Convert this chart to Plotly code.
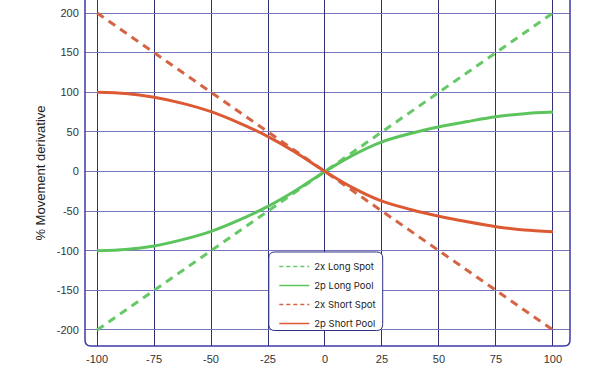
import plotly.graph_objects as go

x_vals = [-100, -75, -50, -25, 0, 25, 50, 75, 100]
long_spot = [-200, -150, -100, -50, 0, 50, 100, 150, 200]
short_spot = [200, 150, 100, 50, 0, -50, -100, -150, -200]

pool_x = [-100, -87.5, -75, -62.5, -50, -37.5, -25, -12.5, 0,
          12.5, 25, 37.5, 50, 62.5, 75, 87.5, 100]
long_pool = [-100, -98.4, -94, -86, -75.5, -61, -44, -23.4, 0,
             21, 37.5, 48, 56.5, 63, 69, 73, 75]
short_pool = [100, 98.4, 93.6, 86, 75.5, 61, 44, 23.4, 0,
              -21, -37.5, -48, -56.5, -63.5, -69.6, -73.8, -76]

x_ticks = [-100, -75, -50, -25, 0, 25, 50, 75, 100]
y_ticks = [-200, -150, -100, -50, 0, 50, 100, 150, 200]
legend_names = ["2x Long Spot", "2p Long Pool", "2x Short Spot", "2p Short Pool"]

GREEN = "#5cc45c"
GREEN_D = "#66c866"
RED = "#dc5a33"
RED_D = "#d46443"

fig = go.Figure()
fig.add_trace(go.Scatter(x=x_vals, y=long_spot, mode="lines", showlegend=False,
                         line=dict(color=GREEN_D, width=3, dash="8px,6px")))
fig.add_trace(go.Scatter(x=pool_x, y=long_pool, mode="lines", showlegend=False,
                         line=dict(color=GREEN, width=3, shape="spline", smoothing=0.8)))
fig.add_trace(go.Scatter(x=x_vals, y=short_spot, mode="lines", showlegend=False,
                         line=dict(color=RED_D, width=3, dash="8px,6px")))
fig.add_trace(go.Scatter(x=pool_x, y=short_pool, mode="lines", showlegend=False,
                         line=dict(color=RED, width=3, shape="spline", smoothing=0.8)))

# thin legend entries
leg_styles = [(GREEN_D, "4px,3px"), (GREEN, "solid"), (RED_D, "4px,3px"), (RED, "solid")]
for name, (c, d) in zip(legend_names, leg_styles):
    fig.add_trace(go.Scatter(x=[None], y=[None], mode="lines", name=name,
                             line=dict(color=c, width=1.5, dash=d)))

L, R, T, B = 84.5, 570, 0, 346
W, H = 600, 368


def px_to_paper(px, py):
    return (px - L) / (R - L), (B - py) / (B - T)


def p(x, y):
    a, b = px_to_paper(x, y)
    return f"{a:.5f},{b:.5f}"


def rounded_rect(x0, y0, x1, y1, r):
    return (f"M{p(x0 + r, y0)} L{p(x1 - r, y0)} Q{p(x1, y0)} {p(x1, y0 + r)} "
            f"L{p(x1, y1 - r)} Q{p(x1, y1)} {p(x1 - r, y1)} "
            f"L{p(x0 + r, y1)} Q{p(x0, y1)} {p(x0, y1 - r)} "
            f"L{p(x0, y0 + r)} Q{p(x0, y0)} {p(x0 + r, y0)} Z")


def frame_path():
    r = 6
    return (f"M{p(L, -5)} L{p(L, B - r)} Q{p(L, B)} {p(L + r, B)} "
            f"L{p(R - r, B)} Q{p(R, B)} {p(R, B - r)} L{p(R, -5)}")


shapes = [
    dict(type="path", xref="paper", yref="paper", path=frame_path(),
         line=dict(color="#3b3ba8", width=1.5), layer="above"),
    dict(type="path", xref="paper", yref="paper",
         path=rounded_rect(268.5, 252, 382.5, 330.5, 6),
         line=dict(color="#2e2e80", width=1), fillcolor="white", layer="above"),
]

lx, ly = px_to_paper(274, 252)

fig.update_layout(
    width=W, height=H,
    margin=dict(l=L, r=W - R, t=T, b=H - B),
    paper_bgcolor="white", plot_bgcolor="white",
    showlegend=True,
    legend=dict(x=lx, y=ly, xanchor="left", yanchor="top",
                bgcolor="rgba(0,0,0,0)", borderwidth=0,
                font=dict(family="Inter, Liberation Sans, sans-serif", size=9.5, color="#222"),
                tracegroupgap=0, itemwidth=30),
    shapes=shapes,
    font=dict(family="Liberation Sans, Arial, sans-serif", size=11, color="#333"),
)

fig.update_xaxes(range=[-105.3, 107.5], tickvals=x_ticks, ticktext=[str(v) for v in x_ticks],
                 showgrid=True, gridcolor="#2f2f72", gridwidth=1,
                 zeroline=True, zerolinecolor="#2f2f72", zerolinewidth=1,
                 showline=False, ticks="outside", ticklen=3, tickcolor="rgba(0,0,0,0)",
                 tickfont=dict(size=11, color="#333"))
fig.update_yaxes(range=[-220.2, 216.4], tickvals=y_ticks, ticktext=[str(v) for v in y_ticks],
                 showgrid=True, gridcolor="#7676bc", gridwidth=1,
                 zeroline=True, zerolinecolor="#7676bc", zerolinewidth=1,
                 showline=False, ticks="outside", ticklen=3, tickcolor="rgba(0,0,0,0)",
                 tickfont=dict(size=11, color="#333"),
                 title=dict(text="% Movement derivative", font=dict(size=13, color="#222"),
                            standoff=8))

fig.write_html("out.html", config={"displayModeBar": False},
               post_script="document.body.style.margin='0';")
